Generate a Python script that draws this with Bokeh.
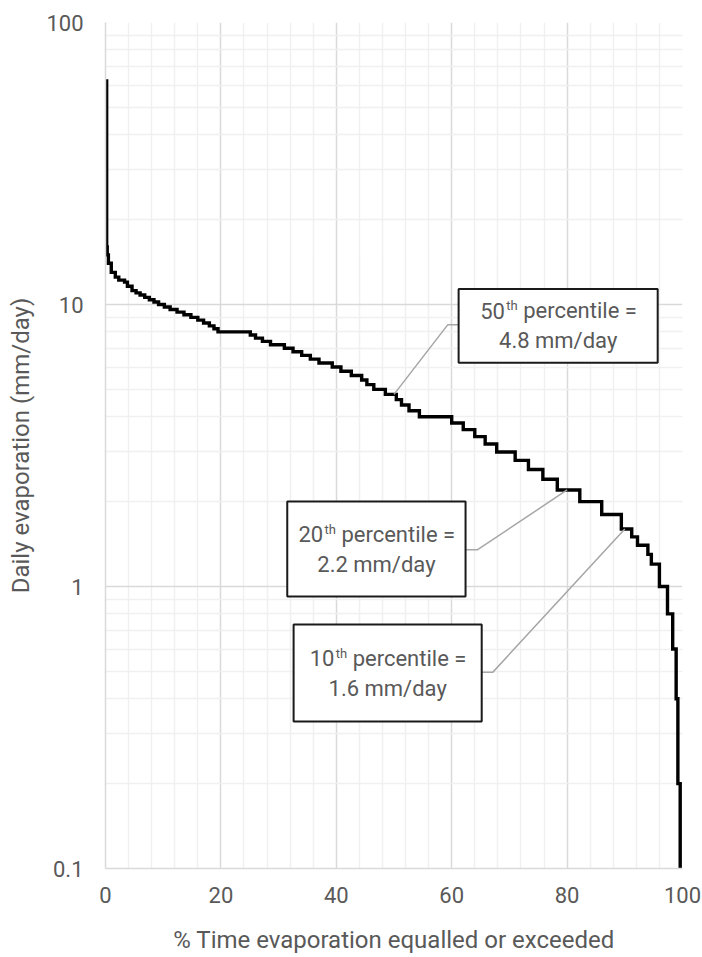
from bokeh.plotting import figure
from bokeh.models import (Range1d, FixedTicker, CustomJSTickFormatter,
                          BoxAnnotation, Label)
from bokeh.embed import file_html
from bokeh.resources import INLINE

# ---- data: daily evaporation duration curve ----
# each evaporation level (mm/day) and the % of time it is equalled or exceeded
evap_level = [62, 16, 15, 14, 13, 12.5, 12.2, 12.0,
              11.6, 11.2, 11.0, 10.8, 10.6, 10.4, 10.2, 10.0,
              9.8, 9.6, 9.4, 9.2, 9.0, 8.8, 8.6, 8.4, 8.2, 8.0,
              7.8, 7.6, 7.4, 7.2, 7.0, 6.8, 6.6, 6.4, 6.2, 6.0,
              5.8, 5.6, 5.4, 5.2, 5.0, 4.8, 4.6, 4.4, 4.2, 4.0,
              3.8, 3.6, 3.4, 3.2, 3.0, 2.8, 2.6, 2.4, 2.2, 2.0,
              1.8, 1.6, 1.5, 1.4, 1.3, 1.2, 1.0, 0.8, 0.6, 0.4, 0.2, 0.1]
exceed_pct = [0.2, 0.3, 0.5, 1.0, 1.7, 2.3, 3.3, 3.8,
              4.6, 5.3, 6.0, 6.8, 7.6, 8.4, 9.2, 10.2,
              11.2, 12.4, 13.6, 14.8, 16.0, 17.0, 18.0, 18.8, 19.5, 25.1,
              26.0, 27.2, 28.6, 31.0, 32.5, 34.0, 35.5, 37.0, 39.3, 40.8,
              42.6, 44.4, 45.3, 46.5, 48.5, 50.4, 51.3, 52.6, 54.4, 60.0,
              62.0, 64.0, 65.8, 67.8, 71.0, 73.3, 75.8, 78.3, 82.2, 86.0,
              89.4, 91.2, 92.2, 94.0, 94.6, 96.0, 97.4, 98.3, 98.9, 99.2, 99.6, 99.6]

# highlighted percentiles
pctl_names = ["50", "20", "10"]
pctl_exceed = [50, 80, 90]
pctl_value = [4.8, 2.2, 1.6]

x_ticks = [0, 20, 40, 60, 80, 100]
x_minor = [4, 8, 12, 16, 24, 28, 32, 36, 44, 48, 52, 56,
           64, 68, 72, 76, 84, 88, 92, 96]
y_ticks = [0.1, 1, 10, 100]
y_minor = [0.2, 0.3, 0.4, 0.5, 0.6, 0.7, 0.8, 0.9,
           2, 3, 4, 5, 6, 7, 8, 9,
           20, 30, 40, 50, 60, 70, 80, 90]

FONT = "Roboto"
TEXT = "#595959"

# staircase path: horizontal at each level, then drop to the next one
xs, ys = [0.0], [evap_level[0]]
for i, (lv, pc) in enumerate(zip(evap_level, exceed_pct)):
    xs.append(pc)
    ys.append(lv)
    if i + 1 < len(evap_level):
        xs.append(pc)
        ys.append(evap_level[i + 1])

p = figure(width=702, height=957,
           x_range=Range1d(0, 100), y_range=Range1d(0.1, 100),
           y_axis_type="log", output_backend="svg", toolbar_location=None,
           min_border_left=105, min_border_right=20,
           min_border_top=22, min_border_bottom=89)
p.outline_line_color = None
p.background_fill_color = "white"
p.border_fill_color = "white"

# grid
p.xaxis.ticker = FixedTicker(ticks=x_ticks, minor_ticks=x_minor)
p.yaxis.ticker = FixedTicker(ticks=y_ticks, minor_ticks=y_minor)
p.xgrid.ticker = FixedTicker(ticks=x_ticks, minor_ticks=x_minor)
p.ygrid.ticker = FixedTicker(ticks=y_ticks, minor_ticks=y_minor)
for g in (p.xgrid, p.ygrid):
    g.grid_line_color = "#d9d9d9"
    g.grid_line_width = 1.5
    g.minor_grid_line_color = "#f0f0f0"
    g.minor_grid_line_width = 1.5

p.yaxis.formatter = CustomJSTickFormatter(code="return tick.toString();")

for ax in (p.xaxis, p.yaxis):
    ax.axis_line_color = "#d9d9d9"
    ax.axis_line_width = 1.5
    ax.major_tick_line_color = None
    ax.minor_tick_line_color = None
    ax.major_tick_out = 0
    ax.minor_tick_out = 0
    ax.major_label_text_font = FONT
    ax.major_label_text_font_size = "22px"
    ax.major_label_text_color = TEXT
    ax.axis_label_text_font = FONT
    ax.axis_label_text_font_size = "24px"
    ax.axis_label_text_font_style = "normal"
    ax.axis_label_text_color = TEXT

p.xaxis.axis_label = "% Time evaporation equalled or exceeded"
p.yaxis.axis_label = "Daily evaporation (mm/day)"
p.yaxis.major_label_standoff = 22
p.yaxis.axis_label_standoff = 8
p.xaxis.major_label_standoff = 18
p.xaxis.axis_label_standoff = 20

# duration curve
p.line(xs, ys, line_color="black", line_width=3.4, line_join="miter")

# call-out boxes for the percentiles (geometry in data units)
boxes = [
    dict(left=61.2, right=95.7, top=11.36, bottom=6.22, knee=(59.3, 8.47), join=61.2),
    dict(left=31.5, right=62.4, top=2.0, bottom=0.922, knee=(64.5, 1.35), join=62.4),
    dict(left=32.6, right=65.2, top=0.733, bottom=0.332, knee=(67.1, 0.496), join=65.2),
]

for name, px_, pv, b in zip(pctl_names, pctl_exceed, pctl_value, boxes):
    kx, ky = b["knee"]
    p.line([px_, kx, b["join"]], [pv, ky, ky], line_color="#a6a6a6", line_width=1.5)
    p.add_layout(BoxAnnotation(left=b["left"], right=b["right"],
                               top=b["top"], bottom=b["bottom"],
                               fill_color="white", fill_alpha=1.0,
                               line_color="#1a1a1a", line_alpha=1.0, line_width=2,
                               level="overlay"))
    cx = (b["left"] + b["right"]) / 2
    cy = (b["top"] * b["bottom"]) ** 0.5
    common = dict(x=cx, y=cy, text_font=FONT, text_color=TEXT,
                  text_baseline="middle", level="overlay")
    p.add_layout(Label(text=name, text_align="left", x_offset=-78, y_offset=15,
                       text_font_size="22px", **common))
    p.add_layout(Label(text="th", text_align="left", x_offset=-52, y_offset=20,
                       text_font_size="13px", **common))
    p.add_layout(Label(text="percentile =", text_align="left", x_offset=-35, y_offset=15,
                       text_font_size="22px", **common))
    p.add_layout(Label(text=f"{pv} mm/day", text_align="center", y_offset=-15,
                       text_font_size="22px", **common))

open("out.html", "w").write(file_html(p, INLINE))
